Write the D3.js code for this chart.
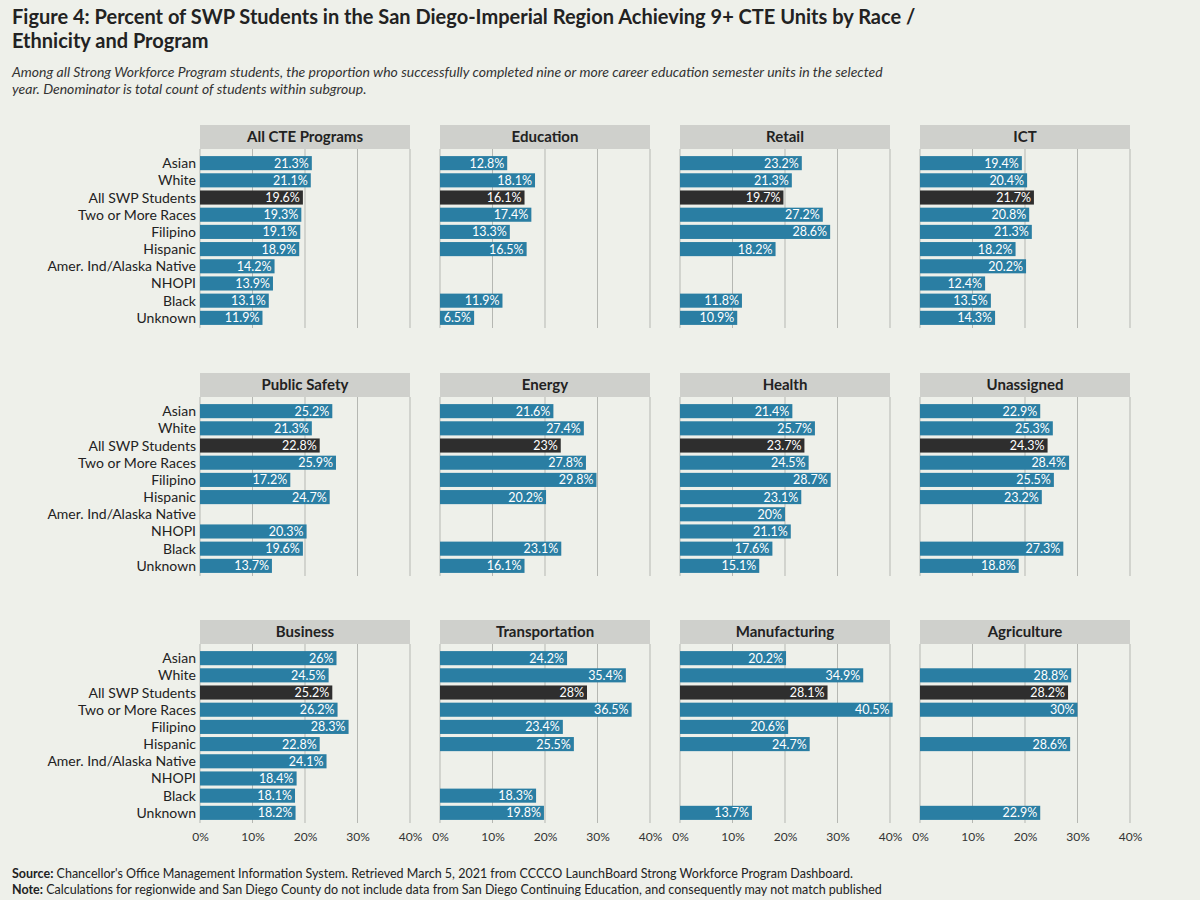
<!DOCTYPE html><html><head><meta charset="utf-8"><script src="https://cdn.jsdelivr.net/npm/d3@7"></script>
<style>body{margin:0;background:#eef0ea;font-family:Lato,"Open Sans",sans-serif}</style></head><body><svg id="c" width="1200" height="900"></svg>
<script>
const categories=["Asian","White","All SWP Students","Two or More Races","Filipino","Hispanic","Amer. Ind/Alaska Native","NHOPI","Black","Unknown"];
const programs=["All CTE Programs","Education","Retail","ICT","Public Safety","Energy","Health","Unassigned","Business","Transportation","Manufacturing","Agriculture"];
const allCTE=[21.3,21.1,19.6,19.3,19.1,18.9,14.2,13.9,13.1,11.9];
const education=[12.8,18.1,16.1,17.4,13.3,16.5,null,null,11.9,6.5];
const retail=[23.2,21.3,19.7,27.2,28.6,18.2,null,null,11.8,10.9];
const ict=[19.4,20.4,21.7,20.8,21.3,18.2,20.2,12.4,13.5,14.3];
const publicSafety=[25.2,21.3,22.8,25.9,17.2,24.7,null,20.3,19.6,13.7];
const energy=[21.6,27.4,23,27.8,29.8,20.2,null,null,23.1,16.1];
const health=[21.4,25.7,23.7,24.5,28.7,23.1,20,21.1,17.6,15.1];
const unassigned=[22.9,25.3,24.3,28.4,25.5,23.2,null,null,27.3,18.8];
const business=[26,24.5,25.2,26.2,28.3,22.8,24.1,18.4,18.1,18.2];
const transportation=[24.2,35.4,28,36.5,23.4,25.5,null,null,18.3,19.8];
const manufacturing=[20.2,34.9,28.1,40.5,20.6,24.7,null,null,null,13.7];
const agriculture=[null,28.8,28.2,30,null,28.6,null,null,null,22.9];
const seriesList=[allCTE,education,retail,ict,publicSafety,energy,health,unassigned,business,transportation,manufacturing,agriculture];
const ticks=[0,10,20,30,40];
const svg=d3.select("#c");
svg.append("text").attr("x",12).attr("y",24).attr("font-size",20).attr("font-weight","bold").attr("fill","#222").text("Figure 4: Percent of SWP Students in the San Diego-Imperial Region Achieving 9+ CTE Units by Race /");
svg.append("text").attr("x",12).attr("y",48).attr("font-size",20).attr("font-weight","bold").attr("fill","#222").text("Ethnicity and Program");
svg.append("text").attr("x",12).attr("y",77).attr("font-size",14).attr("font-style","italic").attr("fill","#333").text("Among all Strong Workforce Program students, the proportion who successfully completed nine or more career education semester units in the selected");
svg.append("text").attr("x",12).attr("y",94).attr("font-size",14).attr("font-style","italic").attr("fill","#333").text("year. Denominator is total count of students within subgroup.");
const colX=[200,440,680,920], pw=210;
const rowY=[125,373,620], hh=24, bh=175;
const x=d3.scaleLinear().domain([0,40]);
programs.forEach((p,i)=>{
  const c=i%4,r=Math.floor(i/4);
  const g=svg.append("g").attr("transform",`translate(${colX[c]},${rowY[r]})`);
  x.range([0,pw]);
  g.append("rect").attr("x",0).attr("y",0).attr("width",pw).attr("height",hh).attr("fill","#cfd0cc");
  g.append("text").attr("x",pw/2).attr("y",17).attr("text-anchor","middle").attr("font-size",15).attr("font-weight","bold").attr("fill","#222").text(p);
  const y=d3.scaleBand().domain(categories).range([hh+4,hh+4+bh]).padding(0.18);
  ticks.forEach(t=>g.append("line").attr("x1",x(t)).attr("x2",x(t)).attr("y1",hh).attr("y2",hh+4+bh).attr("stroke","#b5b7b2"));
  const data=categories.map((k,j)=>({k,v:seriesList[i][j]})).filter(d=>d.v!=null);
  g.selectAll("rect.b").data(data).join("rect").attr("class","b").attr("x",0).attr("y",d=>y(d.k)).attr("width",d=>x(d.v)).attr("height",y.bandwidth())
   .attr("fill",d=>d.k==="All SWP Students"?"#2e2e2e":"#2a7ea3");
  g.selectAll("text.l").data(data).join("text").attr("x",d=>x(d.v)-3).attr("y",d=>y(d.k)+y.bandwidth()/2+4.5).attr("text-anchor","end").attr("font-size",12.5).attr("fill","#fff").text(d=>d.v+"%");
  if(c===0){
    g.selectAll("text.c").data(categories).join("text").attr("x",-4).attr("y",d=>y(d)+y.bandwidth()/2+5).attr("text-anchor","end").attr("font-size",14).attr("fill","#222").text(d=>d);
  }
  if(r===2){
    g.append("g").attr("transform",`translate(0,${hh+4+bh+6})`).call(d3.axisBottom(x).tickValues(ticks).tickFormat(d=>d+"%").tickSize(0))
     .call(a=>{a.select(".domain").remove();a.selectAll("text").attr("font-size",12).attr("fill","#333").attr("font-family","Lato,sans-serif");});
  }
});
svg.append("text").attr("x",12).attr("y",878).attr("font-size",12.5).attr("fill","#222").html("<tspan font-weight='bold'>Source:</tspan> Chancellor's Office Management Information System. Retrieved March 5, 2021 from CCCCO LaunchBoard Strong Workforce Program Dashboard.");
svg.append("text").attr("x",12).attr("y",894).attr("font-size",12.5).attr("fill","#222").html("<tspan font-weight='bold'>Note:</tspan> Calculations for regionwide and San Diego County do not include data from San Diego Continuing Education, and consequently may not match published");
</script></body></html>
